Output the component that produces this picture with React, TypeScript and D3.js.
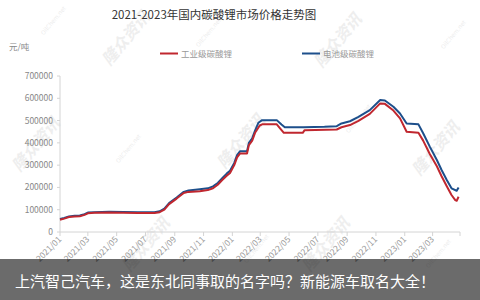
import React from "react";
import * as d3 from "d3";

// 电池级碳酸锂 (battery grade) price, 元/吨
const batteryDates = [
  "2021-01-01", "2021-01-10", "2021-01-20", "2021-02-01", "2021-02-12", "2021-02-22",
  "2021-03-01", "2021-03-15", "2021-04-15", "2021-05-15", "2021-06-15", "2021-07-20",
  "2021-07-31", "2021-08-10", "2021-08-20", "2021-09-05", "2021-09-20", "2021-09-30",
  "2021-10-24", "2021-11-10", "2021-11-21", "2021-12-01", "2021-12-10", "2021-12-20",
  "2021-12-27", "2022-01-05", "2022-01-11", "2022-01-17", "2022-02-01", "2022-02-05",
  "2022-02-12", "2022-02-18", "2022-02-25", "2022-03-05", "2022-04-05", "2022-04-15",
  "2022-04-22", "2022-06-01", "2022-07-15", "2022-08-10", "2022-08-20", "2022-09-07",
  "2022-09-25", "2022-10-19", "2022-11-10", "2022-11-20", "2022-12-08", "2022-12-22",
  "2023-01-05", "2023-01-30", "2023-02-09", "2023-02-23", "2023-03-10", "2023-03-20",
  "2023-03-31", "2023-04-10", "2023-04-21", "2023-04-25",
];
const batteryValues = [
  58000, 63000, 70000, 73000, 74000, 80000,
  87000, 89000, 91000, 90000, 89000, 89000,
  93000, 105000, 130000, 155000, 180000, 186000,
  192000, 196000, 205000, 220000, 240000, 262000,
  275000, 310000, 345000, 362000, 362000, 400000,
  420000, 455000, 490000, 502000, 502000, 482000,
  470000, 470000, 472000, 475000, 487000, 497000,
  517000, 547000, 592000, 590000, 562000, 532000,
  487000, 483000, 443000, 383000, 323000, 278000,
  233000, 196000, 185000, 200000,
];

// 工业级碳酸锂 (industrial grade) price, 元/吨
const industrialDates = [
  "2021-01-01", "2021-01-10", "2021-01-20", "2021-02-01", "2021-02-12", "2021-02-22",
  "2021-03-01", "2021-03-15", "2021-04-15", "2021-05-15", "2021-06-15", "2021-07-20",
  "2021-07-31", "2021-08-10", "2021-08-20", "2021-09-05", "2021-09-20", "2021-09-30",
  "2021-10-24", "2021-11-10", "2021-11-21", "2021-12-01", "2021-12-10", "2021-12-20",
  "2021-12-27", "2022-01-05", "2022-01-11", "2022-01-17", "2022-02-01", "2022-02-05",
  "2022-02-12", "2022-02-18", "2022-02-28", "2022-03-05", "2022-04-05", "2022-04-12",
  "2022-04-20", "2022-05-30", "2022-06-03", "2022-08-10", "2022-08-20", "2022-09-07",
  "2022-09-25", "2022-10-19", "2022-11-10", "2022-11-20", "2022-12-08", "2022-12-22",
  "2023-01-05", "2023-01-30", "2023-02-09", "2023-02-23", "2023-03-10", "2023-03-20",
  "2023-03-31", "2023-04-10", "2023-04-18", "2023-04-21", "2023-04-25",
];
const industrialValues = [
  55000, 60000, 67000, 70000, 71000, 77000,
  84000, 86000, 87000, 86000, 85000, 85000,
  89000, 100000, 125000, 150000, 175000, 180000,
  183000, 188000, 196000, 212000, 232000, 252000,
  265000, 300000, 335000, 352000, 352000, 390000,
  410000, 445000, 478000, 483000, 483000, 465000,
  445000, 445000, 457000, 460000, 470000, 480000,
  499000, 530000, 577000, 575000, 545000, 510000,
  450000, 445000, 410000, 350000, 295000, 250000,
  205000, 166000, 143000, 140000, 158000,
];

const yTicks = [0, 100000, 200000, 300000, 400000, 500000, 600000, 700000];
const xTickLabels = [
  "2021/01", "2021/03", "2021/05", "2021/07", "2021/09", "2021/11",
  "2022/01", "2022/03", "2022/05", "2022/07", "2022/09", "2022/11",
  "2023/01", "2023/03",
];

const seriesNames = ["工业级碳酸锂", "电池级碳酸锂"];
const seriesColors = ["#c0272f", "#1d4f8b"];
const titleText = "2021-2023年国内碳酸锂市场价格走势图";
const unitText = "元/吨";
const captionText = "上汽智己汽车，这是东北同事取的名字吗？新能源车取名大全！";

const W = 480;
const H = 300;
const plot = { left: 60, right: 460, top: 76, bottom: 232 };
const FONT = "'Noto Sans CJK SC', 'Noto Sans', sans-serif";

const parse = d3.timeParse("%Y-%m-%d");
const parseTick = d3.timeParse("%Y/%m");

type Pt = { date: Date; value: number };

export default function App() {
  const x = d3
    .scaleTime()
    .domain([parse("2021-01-01")!, parse("2023-04-28")!])
    .range([plot.left, plot.right]);
  const y = d3.scaleLinear().domain([0, 700000]).range([plot.bottom, plot.top]);

  const industrial: Pt[] = industrialDates.map((d, i) => ({ date: parse(d)!, value: industrialValues[i] }));
  const battery: Pt[] = batteryDates.map((d, i) => ({ date: parse(d)!, value: batteryValues[i] }));

  const line = d3
    .line<Pt>()
    .x((d) => x(d.date))
    .y((d) => y(d.value))
    .curve(d3.curveLinear);

  // faint diagonal brand marks scattered over the canvas
  const wmMain = [
    [130, 42], [342, 44], [40, 148], [245, 145], [440, 152], [150, 248], [330, 248],
  ];
  const wmSmall = [
    [55, 22], [210, 34], [455, 36], [130, 150], [360, 120], [258, 250], [440, 255],
  ];

  return (
    <svg
      width={W}
      height={H}
      style={{ position: "absolute", left: 0, top: 0, background: "#fff" }}
      fontFamily={FONT}
    >
      <rect x={0} y={0} width={W} height={H} fill="#fff" />

      {/* watermarks */}
      {wmMain.map(([wx, wy], i) => (
        <text
          key={"m" + i}
          transform={`translate(${wx},${wy}) rotate(-50)`}
          textAnchor="middle"
          fontSize={16}
          fontWeight={700}
          fontStyle="italic"
          fill="#d6d6d6"
          opacity={0.4}
        >
          隆众资讯
        </text>
      ))}
      {wmSmall.map(([wx, wy], i) => (
        <text
          key={"s" + i}
          transform={`translate(${wx},${wy}) rotate(-50)`}
          textAnchor="middle"
          fontSize={6}
          fill="#d6d6d6"
          opacity={0.45}
        >
          OilChem.net
        </text>
      ))}

      {/* title and unit */}
      <text x={214} y={19} textAnchor="middle" fontSize={11.5} fill="#333">
        {titleText}
      </text>
      <text x={9} y={50} fontSize={8.5} fill="#888">
        {unitText}
      </text>

      {/* legend */}
      {seriesNames.map((name, i) => {
        const lx = i === 0 ? 160 : 302;
        return (
          <g key={name}>
            <line x1={lx} x2={lx + 18} y1={53.5} y2={53.5} stroke={seriesColors[i]} strokeWidth={2} />
            <text x={lx + 21} y={56.5} fontSize={8.5} fill="#999">
              {name}
            </text>
          </g>
        );
      })}

      {/* y axis */}
      <line x1={plot.left} x2={plot.left} y1={plot.top} y2={plot.bottom} stroke="#d4d4d4" />
      {yTicks.map((t) => (
        <g key={t}>
          <line x1={plot.left - 3} x2={plot.left} y1={y(t)} y2={y(t)} stroke="#d4d4d4" />
          <text x={plot.left - 7} y={y(t) + 3} textAnchor="end" fontSize={8.5} fill="#888">
            {t}
          </text>
        </g>
      ))}

      {/* x axis */}
      <line x1={plot.left} x2={plot.right} y1={plot.bottom} y2={plot.bottom} stroke="#d4d4d4" />
      <line x1={plot.right} x2={plot.right} y1={plot.bottom} y2={plot.bottom + 4} stroke="#d4d4d4" />
      {xTickLabels.map((lbl) => {
        const px = x(parseTick(lbl)!);
        return (
          <g key={lbl}>
            <line x1={px} x2={px} y1={plot.bottom} y2={plot.bottom + 4} stroke="#d4d4d4" />
            <text
              transform={`translate(${px + 2},${plot.bottom + 8}) rotate(-45)`}
              textAnchor="end"
              fontSize={8.5}
              fill="#999"
            >
              {lbl}
            </text>
          </g>
        );
      })}

      {/* series */}
      <path d={line(battery) ?? ""} fill="none" stroke={seriesColors[1]} strokeWidth={2} strokeLinejoin="round" />
      <path d={line(industrial) ?? ""} fill="none" stroke={seriesColors[0]} strokeWidth={2} strokeLinejoin="round" />

      {/* caption band */}
      <rect x={0} y={259} width={W} height={H - 259} fill="#000" opacity={0.58} />
      <text x={15} y={287} fontSize={15} fill="#fff">
        {captionText}
      </text>
    </svg>
  );
}
